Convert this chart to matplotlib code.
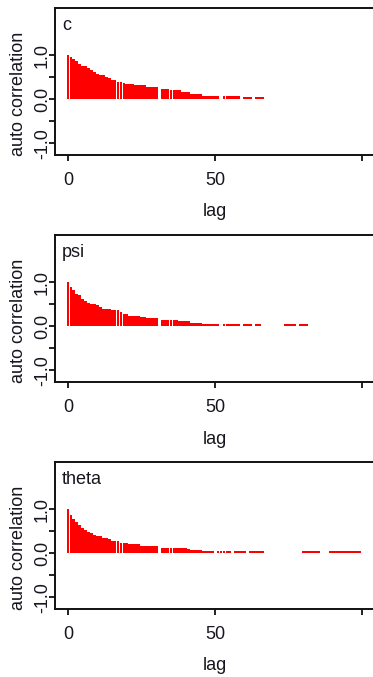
import numpy as np
import matplotlib
matplotlib.use("Agg")
import matplotlib.pyplot as plt

plt.rcParams['font.family'] = ['Liberation Sans', 'DejaVu Sans']

nan = np.nan

panel_names = ["c", "psi", "theta"]

acf_c = [1.00, 0.95, 0.90, 0.86, 0.80, 0.75, 0.75, 0.70, 0.66, 0.62,
         0.58, 0.55, 0.55, 0.51, 0.47, 0.43, 0.43, 0.39, 0.39, 0.37,
         0.35, 0.35, 0.35, 0.31, 0.31, 0.31, 0.31, 0.27, 0.27, 0.27,
         0.27, nan, 0.23, 0.23, 0.23, 0.21, 0.20, 0.20, 0.20, 0.16,
         0.16, 0.16, 0.12, 0.12, 0.12, 0.12, 0.08, 0.08, 0.075, 0.075,
         0.075, 0.075, nan, 0.08, 0.08, 0.08, 0.08, 0.08, 0.08, nan,
         0.045, 0.045, 0.045, nan, 0.045, 0.045, 0.045]

acf_psi = [1.00, 0.88, 0.81, 0.73, 0.70, 0.62, 0.58, 0.53, 0.51, 0.51,
           0.47, 0.43, 0.39, 0.38, 0.38, 0.36, 0.36, 0.36, 0.32, 0.28,
           0.28, 0.24, 0.24, 0.24, 0.23, 0.20, 0.20, 0.19, 0.19, 0.19,
           0.19, nan, 0.15, 0.15, 0.15, 0.15, 0.15, 0.15, 0.11, 0.11,
           0.11, 0.11, 0.08, 0.08, 0.08, 0.08, 0.05, 0.05, 0.05, 0.045,
           0.045, 0.045, nan, 0.045, 0.045, 0.045, 0.045, 0.045, 0.045, nan,
           0.045, 0.045, 0.045, nan, 0.045, 0.045, nan, nan, nan, nan,
           nan, nan, nan, nan, 0.04, 0.04, 0.04, 0.04, nan, 0.04,
           0.04, 0.04]

acf_theta = [1.00, 0.86, 0.78, 0.71, 0.64, 0.57, 0.52, 0.48, 0.45, 0.42,
             0.38, 0.38, 0.35, 0.35, 0.31, 0.28, 0.28, 0.28, 0.24, 0.24,
             0.24, 0.20, 0.20, 0.20, 0.20, 0.16, 0.16, 0.16, 0.16, 0.16,
             0.16, nan, 0.125, 0.125, 0.125, 0.125, 0.125, 0.125, 0.125, 0.125,
             0.125, 0.09, 0.07, 0.07, 0.07, 0.07, 0.045, 0.045, 0.045, 0.045,
             nan, 0.045, 0.045, 0.045, 0.045, 0.045, nan, 0.045, 0.045, 0.045,
             0.045, nan, 0.045, 0.045, 0.045, 0.045, 0.045, nan, nan, nan,
             nan, nan, nan, nan, nan, nan, nan, nan, nan, nan,
             0.04, 0.04, 0.04, 0.04, 0.04, 0.04, nan, nan, nan, 0.04,
             0.04, 0.04, 0.04, 0.04, 0.04, 0.04, 0.04, 0.04, 0.04, 0.04]

series = [acf_c, acf_psi, acf_theta]

x_ticks = [0, 50, 100]
x_tick_labels = ["0", "50", ""]
y_ticks = [-1.0, -0.5, 0.0, 0.5, 1.0]
y_tick_labels = ["-1.0", "", "0.0", "", "1.0"]

W, H = 373, 677
fig = plt.figure(figsize=(W / 100, H / 100), dpi=100)

panel_tops = [8, 235, 462]
ph = 147
left, right = 55, 377
fs = 13
tc = "#16161e"

for name, vals, top in zip(panel_names, series, panel_tops):
    ax = fig.add_axes([left / W, 1 - (top + ph) / H, (right - left) / W, ph / H])
    v = np.array(vals, dtype=float)
    lags = np.arange(len(v))
    m = ~np.isnan(v)
    ax.bar(lags[m], v[m], width=0.95, color="#ff0000", linewidth=0, align="center")
    ax.set_xlim(-4.42, (right - 68) / 2.943)
    ax.set_ylim(-1.27, 2.07)
    ax.set_xticks(x_ticks)
    ax.set_xticklabels(x_tick_labels)
    ax.set_yticks(y_ticks)
    ax.set_yticklabels(y_tick_labels, rotation=90, va="center")
    for s in ax.spines.values():
        s.set_linewidth(1.4)
        s.set_color("#111111")
    ax.tick_params(axis="both", length=4, width=1.3, colors="#111111",
                   labelsize=fs, labelcolor=tc)
    ax.tick_params(axis="x", pad=8)
    ax.tick_params(axis="y", pad=-1)
    fig.text(62 / W, 1 - (top + 22) / H, name, fontsize=fs,
             color=tc, ha="left", va="baseline")
    fig.text((55 + 374) / 2 / W, 1 - (top + 204) / H, "lag",
             fontsize=fs, color=tc, ha="center", va="center")
    fig.text(19 / W, 1 - (top + 86) / H, "auto correlation",
             fontsize=fs, color=tc, ha="center", va="center", rotation=90)

fig.savefig("out.png", dpi=100)
